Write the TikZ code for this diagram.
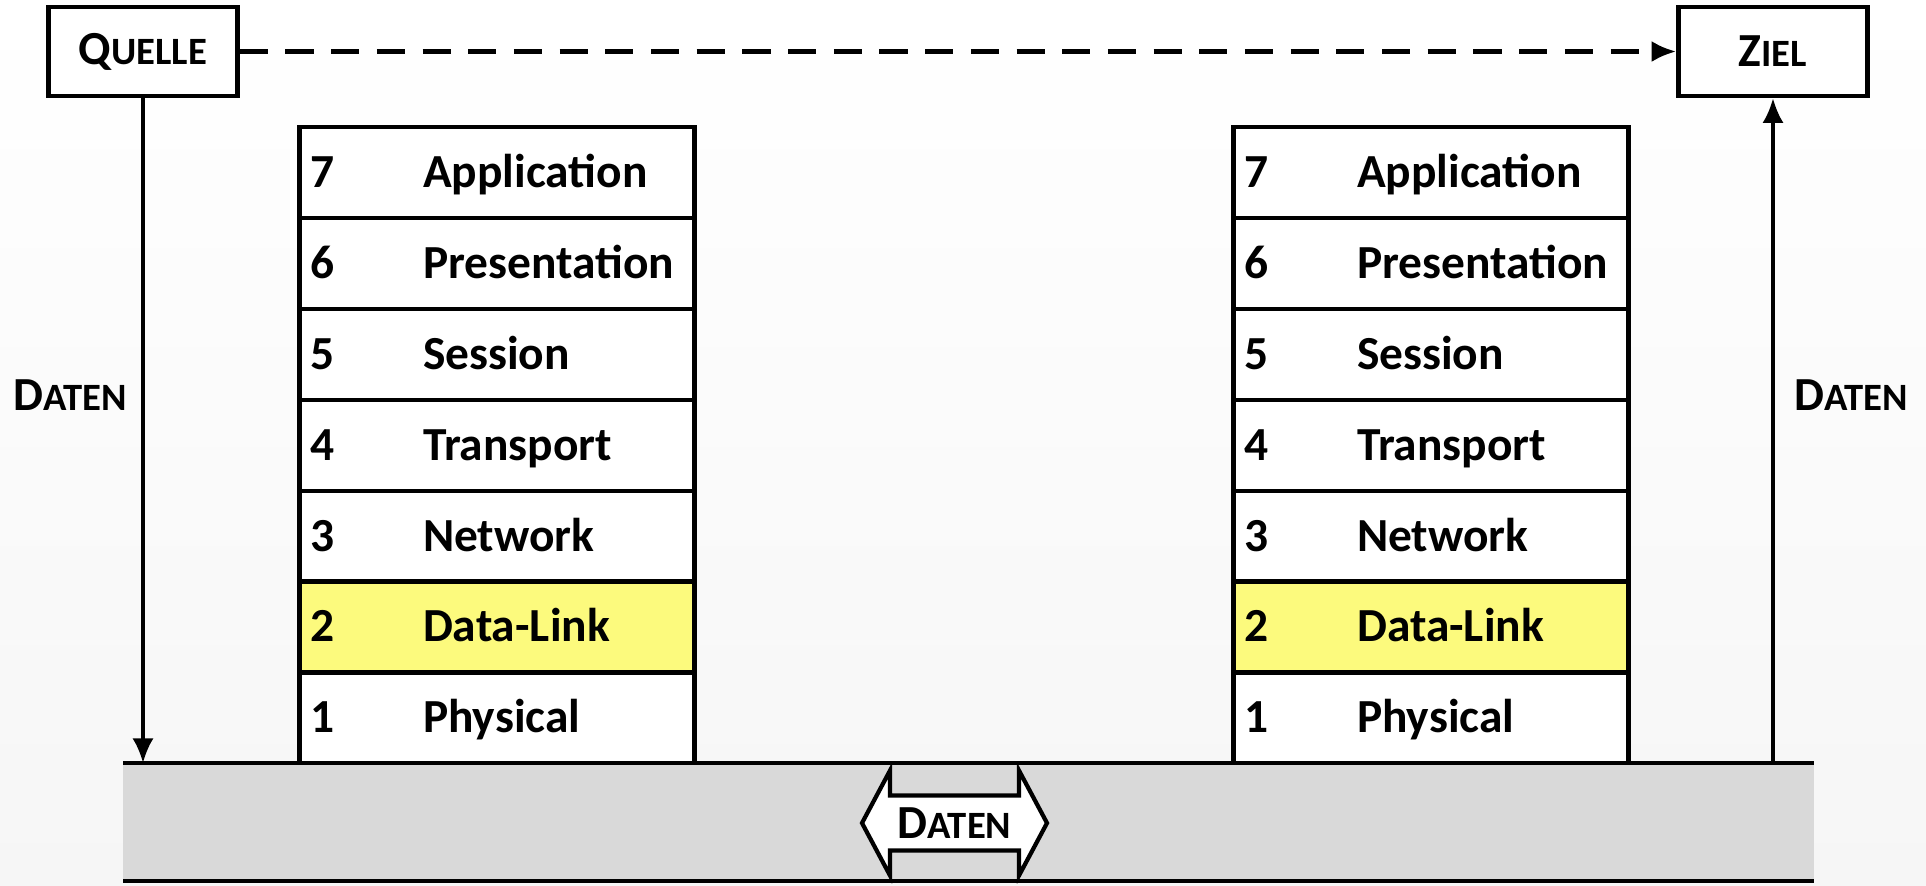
\documentclass[tikz,border=0pt]{standalone}
\usepackage{fontspec}
\setmainfont{Carlito}
\usetikzlibrary{arrows.meta,positioning}
\definecolor{linkgelb}{RGB}{252,250,125}
\definecolor{bandgrau}{RGB}{217,217,217}
\newcommand{\kapit}[2]{#1{\fontsize{11}{13}\selectfont #2}}
\tikzset{
  schicht/.style={draw,line width=1.2pt,minimum width=3.95cm,minimum height=0.909cm,inner sep=0pt},
  endpunkt/.style={draw,line width=1.3pt,fill=white,minimum width=1.89cm,minimum height=0.89cm,inner sep=0pt},
  pfeil/.style={line width=1pt,-{Latex[length=7pt,width=6pt]}},
}
\begin{document}
\begin{tikzpicture}[font=\fontsize{13.5}{16}\selectfont\bfseries]
\pgfmathsetmacro{\h}{0.909}
\pgfmathsetmacro{\boden}{-7.63}
%
\useasboundingbox (0,0) rectangle (19.26,-8.85);
\shade[top color=white,bottom color=gray!7] (0,0) rectangle (19.26,-8.85);
% Medium
\fill[bandgrau] (1.23,\boden) rectangle (18.14,-8.81);
\draw[line width=1pt] (1.23,-8.81)--(18.14,-8.81);
% Schichten
\foreach \x/\s in {4.97/L,14.31/R}{
  \foreach \n/\name/\farbe in {7/Application/white,6/Presentation/white,5/Session/white,4/Transport/white,3/Network/white,2/Data-Link/linkgelb,1/Physical/white}{
    \pgfmathsetmacro{\y}{-1.27-(7-\n+0.5)*\h}
    \node[schicht,fill=\farbe] (\s\n) at (\x,\y) {};
    \node[anchor=base west,inner sep=0pt] (\s\n-nr) at ([xshift=0.12cm,yshift=-0.15cm]\s\n.west) {\n};
    \node[anchor=base west,inner sep=0pt] (\s\n-txt) at ([xshift=1.25cm,yshift=-0.15cm]\s\n.west) {\name};
  }
}
\draw[line width=1.3pt] (1.23,\boden)--(18.14,\boden);
% Endpunkte
\node[endpunkt] (quelle) at (1.43,-0.515) {\kapit{Q}{UELLE}};
\node[endpunkt] (ziel) at (17.73,-0.515) {\kapit{Z}{IEL}};
\draw[pfeil,line width=1.3pt,dash pattern=on 8pt off 5pt] (quelle)--(ziel);
\coordinate (qfuss) at (quelle.south |- 0,\boden);
\coordinate (zfuss) at (ziel.south |- 0,\boden);
\draw[pfeil] (quelle)--(qfuss);
\draw[pfeil] (zfuss)--(ziel);
\node (datenL) at (0.70,-3.95) {\kapit{D}{ATEN}};
\node (datenR) at (18.51,-3.95) {\kapit{D}{ATEN}};
% Doppelpfeil
\coordinate (mitte) at (9.545,-8.23);
\draw[line width=1.2pt,fill=white,shift={(mitte)}] (-0.925,0)--(-0.645,0.525)--(-0.645,0.275)--(0.645,0.275)--(0.645,0.525)--(0.925,0)--(0.645,-0.525)--(0.645,-0.275)--(-0.645,-0.275)--(-0.645,-0.525)--cycle;
\node (datenM) at (mitte) {\kapit{D}{ATEN}};
\end{tikzpicture}
\end{document}
